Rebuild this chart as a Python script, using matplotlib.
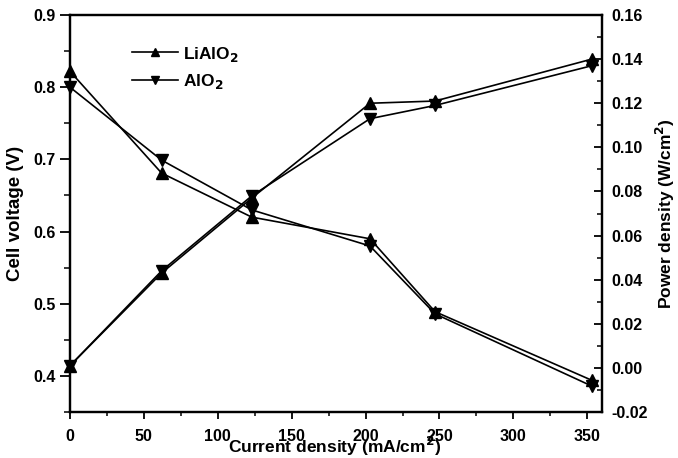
import matplotlib
matplotlib.use("Agg")
import matplotlib.pyplot as plt
from matplotlib.ticker import MultipleLocator, FormatStrFormatter

plt.rcParams['font.family'] = ['Liberation Sans', 'DejaVu Sans']
plt.rcParams['font.weight'] = 'bold'
plt.rcParams['axes.labelweight'] = 'bold'

# Current density (mA/cm^2)
current = [0, 62, 123, 203, 247, 353]

# Cell voltage (V)
volt_lialo2 = [0.822, 0.681, 0.620, 0.590, 0.489, 0.394]
volt_alo2 = [0.800, 0.699, 0.630, 0.580, 0.486, 0.386]

# Power density (W/cm^2)
power_lialo2 = [0.001, 0.043, 0.077, 0.120, 0.121, 0.140]
power_alo2 = [0.001, 0.044, 0.078, 0.113, 0.119, 0.137]

labels = ['LiAlO$_2$', 'AlO$_2$']

fig = plt.figure(figsize=(6.78, 4.58), dpi=100)
ax = fig.add_axes([0.1032, 0.1004, 0.7848, 0.8668])
ax2 = ax.twinx()

style = dict(color='black', lw=1.2, ms=8, clip_on=False, zorder=3)
l1, = ax.plot(current, volt_lialo2, marker='^', label=labels[0], **style)
l2, = ax.plot(current, volt_alo2, marker='v', label=labels[1], **style)
ax2.plot(current, power_lialo2, marker='^', **style)
ax2.plot(current, power_alo2, marker='v', **style)

ax.set_xlim(0, 360)
ax.set_ylim(0.35, 0.9)
ax2.set_ylim(-0.02, 0.16)

ax.xaxis.set_major_locator(MultipleLocator(50))
ax.xaxis.set_minor_locator(MultipleLocator(25))
ax.yaxis.set_major_locator(MultipleLocator(0.1))
ax.yaxis.set_minor_locator(MultipleLocator(0.05))
ax.yaxis.set_major_formatter(FormatStrFormatter('%.1f'))
ax2.yaxis.set_major_locator(MultipleLocator(0.02))
ax2.yaxis.set_minor_locator(MultipleLocator(0.01))
ax2.yaxis.set_major_formatter(FormatStrFormatter('%.2f'))

for a in (ax, ax2):
    for s in a.spines.values():
        s.set_linewidth(1.6)

ax.tick_params(axis='x', which='major', direction='out', length=5, width=1.3,
               pad=7, labelsize=11.5, top=False)
ax.tick_params(axis='x', which='minor', direction='out', length=3, width=1.1, top=False)
ax.tick_params(axis='y', which='major', direction='out', length=7, width=1.3,
               pad=3, labelsize=11.5, right=False)
ax.tick_params(axis='y', which='minor', direction='out', length=4, width=1.1, right=False)
ax2.tick_params(axis='y', which='major', direction='in', length=6, width=1.3,
                pad=7, labelsize=11.5)
ax2.tick_params(axis='y', which='minor', direction='in', length=3.5, width=1.1)

for lab in ax.get_xticklabels() + ax.get_yticklabels() + ax2.get_yticklabels():
    lab.set_fontweight('bold')

ax.set_xlabel('Current density (mA/cm$^2$)', fontsize=12.5)
ax.xaxis.set_label_coords(0.498, -0.058)
ax.set_ylabel('Cell voltage (V)', fontsize=13.5)
ax.yaxis.set_label_coords(-0.086, 0.5)
ax2.set_ylabel('Power density (W/cm$^2$)', fontsize=12.5)
ax2.yaxis.set_label_coords(1.098, 0.5)

leg = ax.legend(handles=[l1, l2], loc='upper left', bbox_to_anchor=(0.088, 0.965),
                frameon=False, fontsize=12.5, handlelength=2.6, handletextpad=0.3,
                labelspacing=0.5, markerscale=0.8)

fig.savefig('out.png', dpi=100)
